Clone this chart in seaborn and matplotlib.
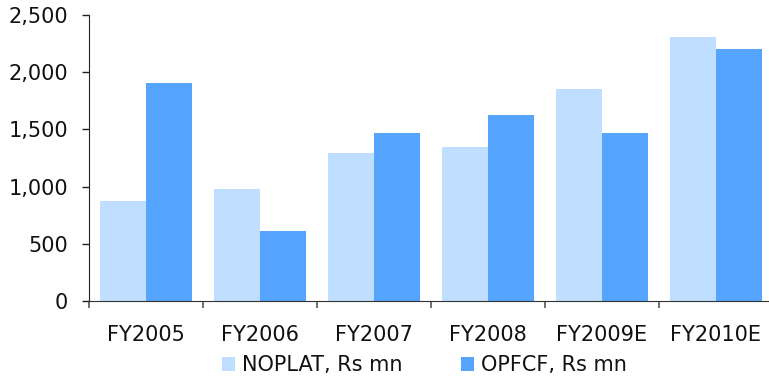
import pandas as pd
import matplotlib.pyplot as plt
import seaborn as sns
from matplotlib.ticker import FuncFormatter, FixedLocator

# Dados do gráfico
anos = ['FY2005', 'FY2006', 'FY2007', 'FY2008', 'FY2009E', 'FY2010E']
noplat = [874, 979, 1294, 1346, 1853, 2308]
opfcf = [1906, 612, 1469, 1626, 1469, 2203]
series = ['NOPLAT, Rs mn', 'OPFCF, Rs mn']

df = pd.DataFrame({
    'Ano': anos * 2,
    'Valor': noplat + opfcf,
    'Serie': [series[0]] * len(anos) + [series[1]] * len(anos),
})

sns.set_style('white')
plt.rcParams['font.family'] = ['DejaVu Sans']

fig = plt.figure(figsize=(7.69, 3.76), dpi=100)
ax = fig.add_axes([89 / 769, 75 / 376, 684 / 769, 286 / 376])

sns.barplot(data=df, x='Ano', y='Valor', hue='Serie', ax=ax,
            palette=['#C0DEFF', '#55A5FF'], width=0.81, saturation=1,
            errorbar=None, linewidth=0, legend=True)

ax.set_ylim(0, 2500)
ax.set_xlim(-0.5, len(anos) - 0.5)
ax.set_yticks(range(0, 2501, 500))
ax.yaxis.set_major_formatter(FuncFormatter(lambda v, p: f'{int(v):,}'))
ax.set_xlabel('')
ax.set_ylabel('')

for s in ['top', 'right']:
    ax.spines[s].set_visible(False)
ax.spines['left'].set_color('#222222')
ax.spines['bottom'].set_color('#333333')

ax.tick_params(axis='y', left=True, direction='out', length=5, width=1,
               color='#222222', labelsize=15, pad=10, labelcolor='#111111')
ax.tick_params(axis='x', which='major', length=0, pad=17, labelsize=15,
               labelcolor='#111111')
ax.xaxis.set_minor_locator(FixedLocator([i - 0.5 for i in range(len(anos) + 1)]))
ax.tick_params(axis='x', which='minor', bottom=True, length=5, width=1.2,
               color='#555555')

handles, labels = ax.get_legend_handles_labels()
leg = ax.legend(handles, labels, loc='center', bbox_to_anchor=(0.552, 0.029),
                bbox_transform=fig.transFigure, ncol=2, frameon=False,
                prop={'size': 15}, handlelength=0.62, handleheight=0.62,
                handletextpad=0.33, columnspacing=2.8, borderaxespad=0)
for t in leg.get_texts():
    t.set_color('#111111')

fig.savefig('out.png', dpi=100)
